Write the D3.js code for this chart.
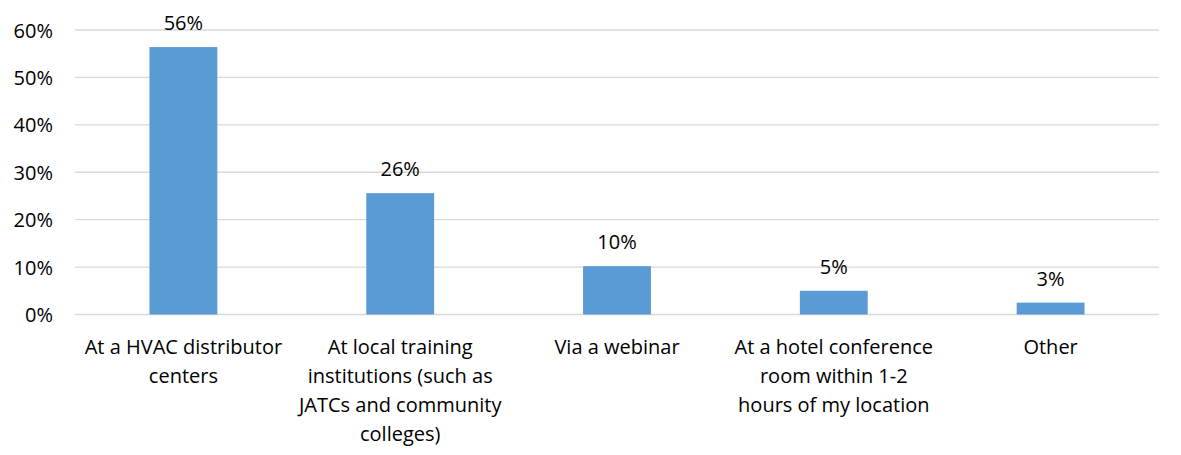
<!DOCTYPE html>
<html>
<head>
<meta charset="utf-8">
<script src="https://cdn.jsdelivr.net/npm/d3@7"></script>
<style>
  body { margin: 0; background: #fff; }
  svg text { font-family: "Open Sans", sans-serif; fill: #000; }
</style>
</head>
<body>
<svg id="chart" width="1181" height="455"></svg>
<script>
// values
const categories = [
  "At a HVAC distributor\ncenters",
  "At local training\ninstitutions (such as\nJATCs and community\ncolleges)",
  "Via a webinar",
  "At a hotel conference\nroom within 1-2\nhours of my location",
  "Other"
];
const shares = [0.564, 0.256, 0.102, 0.050, 0.025];
const labels = ["56%", "26%", "10%", "5%", "3%"];
const yTicks = [0, 0.1, 0.2, 0.3, 0.4, 0.5, 0.6];

const margin = { top: 30, right: 22, bottom: 140.5, left: 75 };
const width = 1181, height = 455;
const fontSize = "20px";

const svg = d3.select("#chart");

const x = d3.scaleBand()
    .domain(categories)
    .range([margin.left, width - margin.right])
    .paddingInner(0.687)
    .paddingOuter(0.3435);

const y = d3.scaleLinear()
    .domain([0, 0.6])
    .range([height - margin.bottom, margin.top]);

// gridlines
svg.append("g")
    .selectAll("line")
    .data(yTicks)
    .join("line")
    .attr("x1", margin.left)
    .attr("x2", width - margin.right)
    .attr("y1", d => y(d))
    .attr("y2", d => y(d))
    .attr("stroke", "#d9d9d9")
    .attr("stroke-width", 1.3);

// y axis labels
let yAxis = svg.append("g")
    .attr("transform", "translate(" + (margin.left - 2) + ",0)")
    .call(d3.axisLeft(y).tickValues(yTicks).tickFormat(d3.format(".0%")).tickSize(0).tickPadding(20));
yAxis.select(".domain").remove();
yAxis.selectAll("text")
    .style("font-size", fontSize)
    .attr("dy", "0.35em");

// bars
svg.append("g")
    .selectAll("rect")
    .data(shares)
    .join("rect")
    .attr("x", (d, i) => x(categories[i]))
    .attr("y", d => y(d))
    .attr("width", x.bandwidth())
    .attr("height", d => y(0) - y(d))
    .attr("fill", "#5b9bd5");

// value labels
svg.append("g")
    .selectAll("text")
    .data(shares)
    .join("text")
    .attr("x", (d, i) => x(categories[i]) + x.bandwidth() / 2)
    .attr("y", d => y(d) - 24)
    .attr("dy", "0.35em")
    .attr("text-anchor", "middle")
    .style("font-size", fontSize)
    .text((d, i) => labels[i]);

// category labels, one tspan per line
let cat = svg.append("g")
    .selectAll("text")
    .data(categories)
    .join("text")
    .attr("text-anchor", "middle")
    .style("font-size", fontSize)
    .attr("transform", d => "translate(" + (x(d) + x.bandwidth() / 2) + ",347)");
cat.selectAll("tspan")
    .data(d => d.split("\n"))
    .join("tspan")
    .attr("x", 0)
    .attr("y", (d, i) => i * 29)
    .attr("dy", "0.35em")
    .text(d => d);
</script>
</body>
</html>
